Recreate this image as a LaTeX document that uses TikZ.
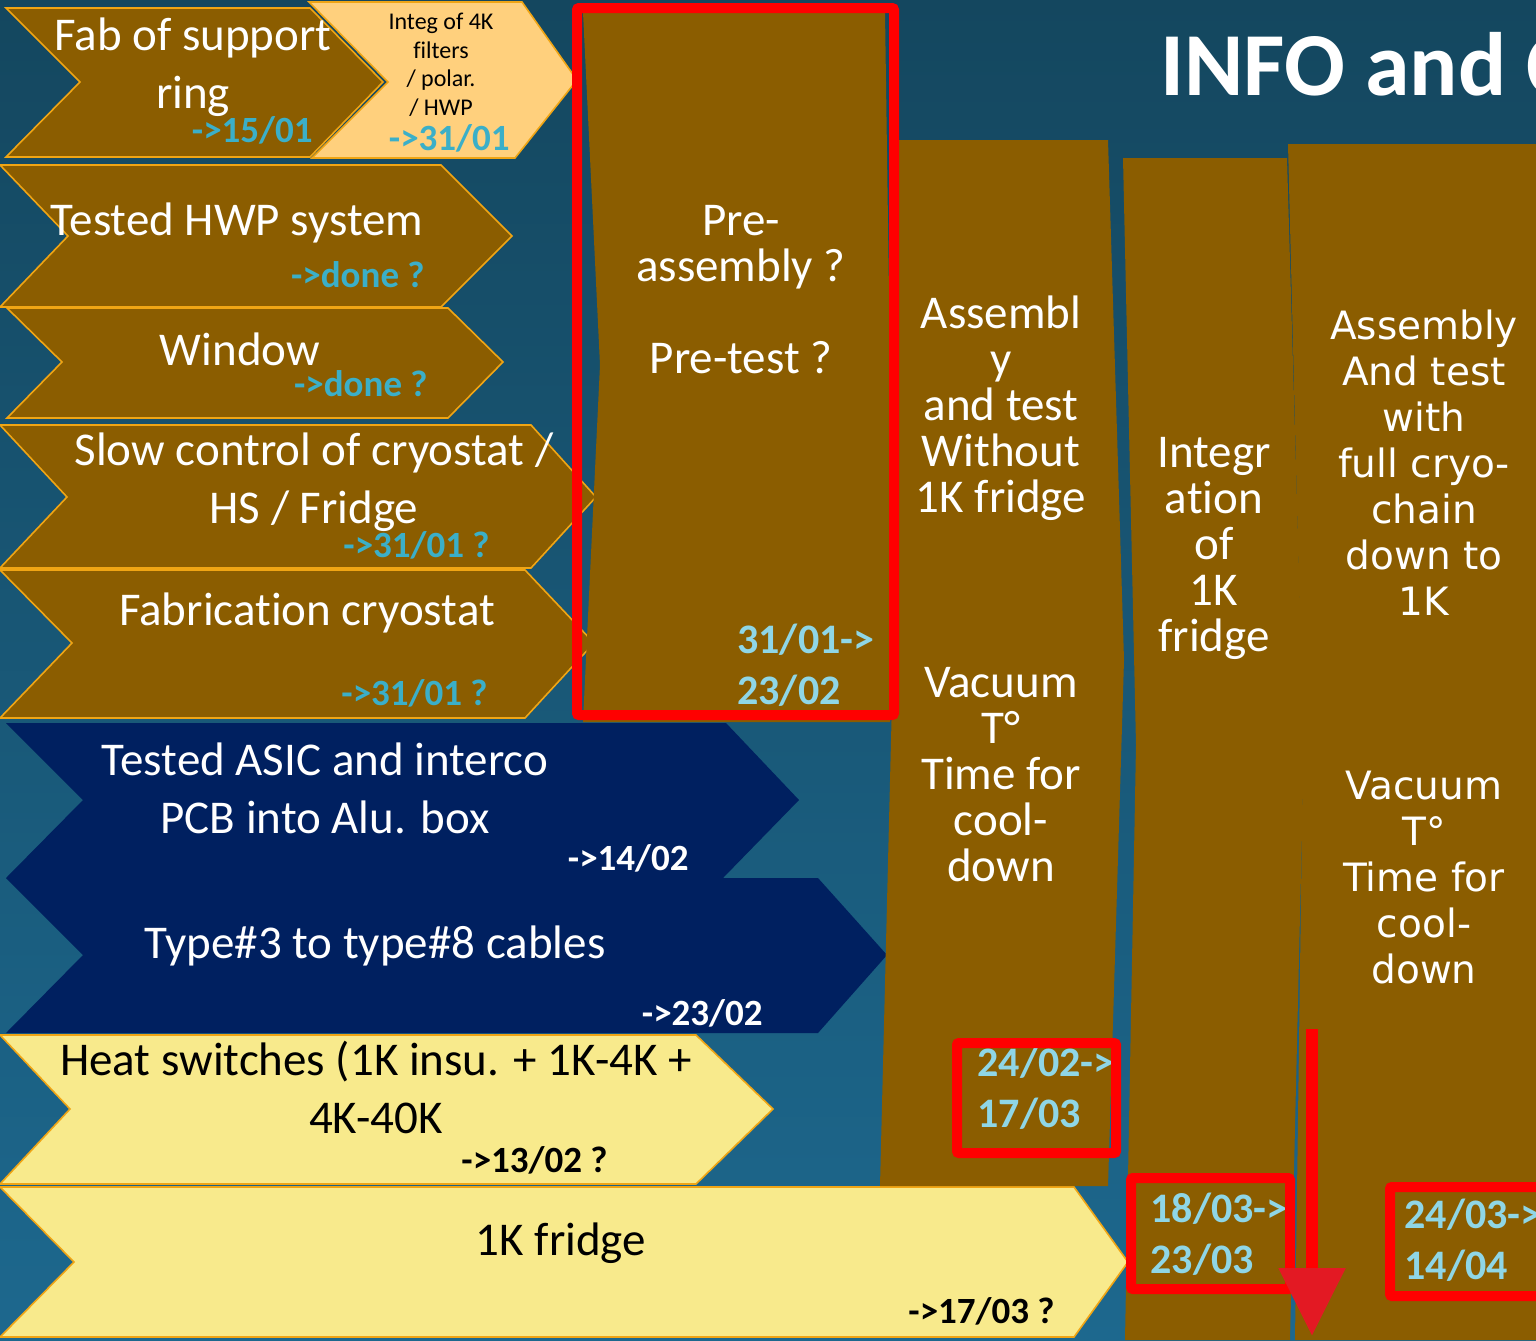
\documentclass[tikz,border=0pt]{standalone}
\usepackage{xcolor}
\usepackage{fontspec}
\setmainfont[Ligatures=NoCommon]{Carlito}
\newfontfamily\widesans{DejaVu Sans}
\usepackage{tikz}
\usetikzlibrary{arrows.meta}
\definecolor{bgtop}{RGB}{20,71,95}
\definecolor{bgbot}{RGB}{29,104,142}
\definecolor{taskbrown}{RGB}{139,93,0}
\definecolor{taskorange}{RGB}{255,208,125}
\definecolor{taskyellow}{RGB}{248,234,140}
\definecolor{tasknavy}{RGB}{0,32,96}
\definecolor{edgeorange}{RGB}{240,165,20}
\definecolor{datecyan}{RGB}{59,175,200}
\definecolor{datelight}{RGB}{143,214,230}
\definecolor{framered}{RGB}{255,0,0}
\definecolor{headred}{RGB}{227,25,35}
\tikzset{
    chevbrown/.style={fill=taskbrown, draw=edgeorange, line width=0.8pt},
    chevorange/.style={fill=taskorange, draw=edgeorange, line width=0.8pt},
    chevyellow/.style={fill=taskyellow, draw=edgeorange, line width=0.8pt},
    chevnavy/.style={fill=tasknavy},
    phasecol/.style={fill=taskbrown},
    redframe/.style={draw=framered, line width=5pt, rounded corners=1pt},
    redarrow/.style={framered, line width=6pt, -{Triangle[length=34pt, width=32pt, color=headred]}},
    tasktext/.style={inner sep=0pt, align=center, anchor=base, font=\fontsize{23.5}{29}\selectfont},
    smalltext/.style={inner sep=0pt, align=center, anchor=base, font=\fontsize{12}{14.25}\selectfont},
    coltext/.style={white, inner sep=0pt, align=center, anchor=base, font=\fontsize{23.5}{23}\selectfont},
    widetext/.style={white, inner sep=0pt, align=center, anchor=base, font=\widesans\fontsize{19.5}{23}\selectfont},
    duedate/.style={inner sep=0pt, anchor=base east, font=\bfseries\fontsize{18.5}{20}\selectfont},
    spandate/.style={datelight, inner sep=0pt, align=left, anchor=base west, font=\bfseries\fontsize{21}{25.5}\selectfont},
}

\begin{document}
\begin{tikzpicture}[x=0.5pt, y=-0.5pt]
    \useasboundingbox (0,0) rectangle (1536,1340);
    \clip (0,0) rectangle (1536,1340);
    \shade[top color=bgtop, bottom color=bgbot] (0,0) rectangle (1536,1340);

    % tasks
    \draw[chevbrown] (6,8) -- (310,8) -- (383,82) -- (310,157) -- (6,157) -- (80,82) -- cycle;
    \draw[chevorange] (309,2) -- (522,2) -- (577,80) -- (515,158) -- (312,158) -- (388,82) -- cycle;
    \draw[chevbrown] (0,165) -- (441,165) -- (512,236) -- (441,307) -- (0,307) -- (68,236) -- cycle;
    \draw[chevbrown] (7,308) -- (448,308) -- (503,362) -- (448,418) -- (7,418) -- (62,362) -- cycle;
    \draw[chevbrown] (0,425) -- (531,425) -- (596,497) -- (531,568) -- (0,568) -- (67,497) -- cycle;
    \draw[chevbrown] (0,570) -- (525,570) -- (594,643) -- (525,718) -- (0,718) -- (72,643) -- cycle;
    \fill[chevnavy] (6,723) -- (726,723) -- (799,800) -- (723,878) -- (6,878) -- (83,800) -- cycle;
    \fill[chevnavy] (6,878) -- (818,878) -- (887,955) -- (818,1033) -- (6,1033) -- (83,955) -- cycle;
    \draw[chevyellow] (0,1035) -- (696,1035) -- (773,1109) -- (696,1184) -- (0,1184) -- (70,1109) -- cycle;
    \draw[chevyellow] (0,1187) -- (1074,1187) -- (1128,1262) -- (1074,1337) -- (0,1337) -- (74,1262) -- cycle;

    % phases
    \fill[phasecol] (583,12) -- (885,12) -- (890,365) -- (890,722) -- (583,722) -- (600,365) -- cycle;
    \fill[phasecol] (890,140) -- (1108,140) -- (1124,660) -- (1108,1186) -- (880,1186) -- (893,660) -- cycle;
    \fill[phasecol] (1123,158) -- (1287,158) -- (1304,745) -- (1290,1340) -- (1125,1340) -- (1136,745) -- cycle;
    \fill[phasecol] (1288,144) -- (1540,144) -- (1540,1340) -- (1295,1340) -- (1303,748) -- cycle;

    \node[white, inner sep=0pt, anchor=base west, font=\bfseries\fontsize{45}{50}\selectfont] (title) at (1160,95) {INFO and C};

    % multi-line texts sit on the baseline of their last line
    \node[tasktext, white] (fabring) at (193,108) {Fab of support\\ring};
    \node[duedate, datecyan] (fabringdue) at (313,142) {->15/01};
    \node[smalltext] (filters) at (441,115) {Integ of 4K\\filters\\/ polar.\\/ HWP};
    \node[duedate, datecyan] (filtersdue) at (510,150) {->31/01};
    \node[tasktext, white] (hwp) at (237,235) {Tested HWP system};
    \node[duedate, datecyan] (hwpdue) at (425,287) {->done ?};
    \node[tasktext, white] (window) at (240,365) {Window};
    \node[duedate, datecyan] (windowdue) at (428,396) {->done ?};
    \node[tasktext, white] (slowctrl) at (314,523) {Slow control of cryostat /\\HS / Fridge};
    \node[duedate, datecyan] (slowctrldue) at (490,557) {->31/01 ?};
    \node[tasktext, white] (cryostat) at (307,625) {Fabrication cryostat};
    \node[duedate, datecyan] (cryostatdue) at (488,705) {->31/01 ?};
    \node[tasktext, white] (asic) at (325,833) {Tested ASIC and interco\\PCB into Alu. box};
    \node[duedate, white] (asicdue) at (689,870) {->14/02};
    \node[tasktext, white] (cables) at (375,958) {Type\#3 to type\#8 cables};
    \node[duedate, white] (cablesdue) at (763,1025) {->23/02};
    \node[tasktext] (heatsw) at (376,1133) {Heat switches (1K insu. + 1K-4K +\\4K-40K};
    \node[duedate] (heatswdue) at (608,1172) {->13/02 ?};
    \node[tasktext] (fridge) at (561,1255) {1K fridge};
    \node[duedate] (fridgedue) at (1055,1323) {->17/03 ?};

    \node[coltext] (preassy) at (741,373) {Pre-\\assembly ?\\[23pt]Pre-test ?};
    \node[spandate] (preassydate) at (737,704) {31/01->\\23/02};
    \node[coltext] (nofridge) at (1001,512) {Assembl\\y\\and test\\Without\\1K fridge};
    \node[coltext] (cooldowna) at (1001,881) {Vacuum\\T°\\Time for\\cool-\\down};
    \node[spandate] (nofridgedate) at (977,1127) {24/02->\\17/03};
    \node[coltext] (integ) at (1214,651) {Integr\\ation\\of\\1K\\fridge};
    \node[spandate] (integdate) at (1150,1273) {18/03->\\23/03};
    \node[widetext] (fullchain) at (1424,615) {Assembly\\And test\\with\\full cryo-\\chain\\down to\\1K};
    \node[widetext] (cooldownb) at (1424,983) {Vacuum\\T°\\Time for\\cool-\\down};
    \node[spandate] (fullchaindate) at (1404,1279) {24/03->\\14/04};

    % highlights
    \draw[redframe] (577,8) rectangle (894,715);
    \draw[redframe] (957,1043) rectangle (1116,1153);
    \draw[redframe] (1131,1178) rectangle (1290,1289);
    \draw[redframe] (1390,1187) rectangle (1560,1296);
    \coordinate (arrtop) at (1312,1029);
    \coordinate (arrend) at (1312,1336);
    \draw[redarrow] (arrtop) -- (arrend);
\end{tikzpicture}
\end{document}
